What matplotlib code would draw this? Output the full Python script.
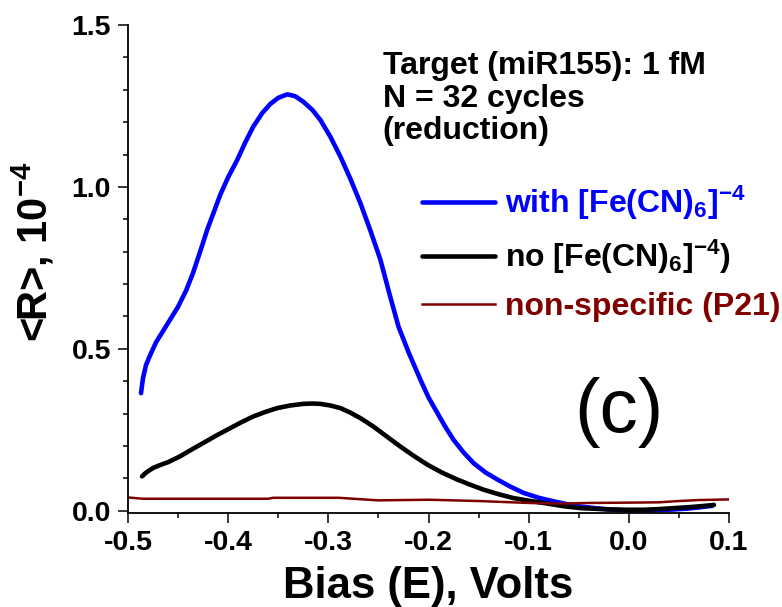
import matplotlib
matplotlib.use("Agg")
import matplotlib.pyplot as plt
from matplotlib.ticker import MultipleLocator

plt.rcParams["font.family"] = ["Liberation Sans", "DejaVu Sans"]
plt.rcParams["font.weight"] = "bold"
plt.rcParams["mathtext.fontset"] = "custom"
plt.rcParams["mathtext.rm"] = "Liberation Sans:bold"
plt.rcParams["mathtext.it"] = "Liberation Sans:bold"
plt.rcParams["mathtext.bf"] = "Liberation Sans:bold"

# with [Fe(CN)6]-4
x_blue = [-0.487, -0.485, -0.482, -0.478, -0.472, -0.465, -0.458, -0.450, -0.442,
          -0.435, -0.428, -0.421, -0.414, -0.408, -0.400, -0.391, -0.383, -0.375,
          -0.366, -0.358, -0.350, -0.341, -0.333, -0.325, -0.316, -0.308, -0.298,
          -0.288, -0.278, -0.268, -0.258, -0.248, -0.239, -0.230, -0.220, -0.208,
          -0.200, -0.191, -0.183, -0.175, -0.165, -0.155, -0.143, -0.131, -0.118,
          -0.105, -0.090, -0.075, -0.060, -0.048, -0.034, -0.020, -0.010, 0.000,
          0.015, 0.030, 0.045, 0.060, 0.072, 0.083]
y_blue = [0.363, 0.410, 0.450, 0.480, 0.520, 0.555, 0.590, 0.630, 0.680,
          0.735, 0.800, 0.867, 0.925, 0.975, 1.030, 1.083, 1.137, 1.186,
          1.228, 1.256, 1.275, 1.286, 1.280, 1.263, 1.238, 1.207, 1.155,
          1.094, 1.025, 0.950, 0.865, 0.775, 0.670, 0.569, 0.490, 0.404,
          0.350, 0.301, 0.258, 0.219, 0.180, 0.147, 0.118, 0.096, 0.074,
          0.055, 0.040, 0.029, 0.019, 0.013, 0.008, 0.004, 0.002, 0.001,
          0.001, 0.002, 0.004, 0.007, 0.011, 0.015]

# no [Fe(CN)6]-4
x_black = [-0.486, -0.483, -0.480, -0.475, -0.468, -0.460, -0.448, -0.437, -0.425,
           -0.412, -0.398, -0.387, -0.375, -0.363, -0.351, -0.338, -0.325, -0.316,
           -0.308, -0.298, -0.288, -0.278, -0.268, -0.255, -0.242, -0.228, -0.215,
           -0.201, -0.186, -0.171, -0.158, -0.145, -0.130, -0.115, -0.098, -0.081,
           -0.065, -0.048, -0.034, -0.020, 0.000, 0.015, 0.030, 0.045, 0.060,
           0.072, 0.085]
y_black = [0.106, 0.115, 0.122, 0.132, 0.141, 0.150, 0.168, 0.188, 0.209,
           0.232, 0.255, 0.273, 0.291, 0.305, 0.317, 0.325, 0.330, 0.331,
           0.330, 0.325, 0.317, 0.303, 0.286, 0.260, 0.230, 0.198, 0.170,
           0.142, 0.117, 0.096, 0.080, 0.065, 0.051, 0.039, 0.030, 0.022,
           0.014, 0.008, 0.006, 0.004, 0.003, 0.003, 0.005, 0.008, 0.011,
           0.014, 0.018]

# non-specific (P21)
x_red = [-0.500, -0.485, -0.360, -0.355, -0.290, -0.270, -0.250, -0.200, -0.150,
         -0.100, -0.070, -0.040, 0.000, 0.030, 0.050, 0.070, 0.100]
y_red = [0.041, 0.037, 0.037, 0.040, 0.040, 0.036, 0.032, 0.034, 0.030,
         0.024, 0.022, 0.024, 0.025, 0.026, 0.030, 0.033, 0.035]

labels = [r"with [Fe(CN)$_6$]$^{-4}$", r"no [Fe(CN)$_6$]$^{-4}$)", "non-specific (P21)"]
info_text = "Target (miR155): 1 fM\nN = 32 cycles\n(reduction)"

fig = plt.figure(figsize=(7.82, 6.07), dpi=100)
ax = fig.add_axes([128 / 782, 1 - 513 / 607, 601 / 782, 488 / 607])

ax.plot(x_blue, y_blue, color="#0000ff", lw=3.3, solid_capstyle="round",
        solid_joinstyle="round", label=labels[0])
ax.plot(x_black, y_black, color="black", lw=3.3, solid_capstyle="round",
        solid_joinstyle="round", label=labels[1])
ax.plot(x_red, y_red, color="#800000", lw=1.8, label=labels[2])

ax.set_xlim(-0.5, 0.1)
ax.set_ylim(-0.007, 1.5)
ax.xaxis.set_major_locator(MultipleLocator(0.1))
ax.xaxis.set_minor_locator(MultipleLocator(0.05))
ax.yaxis.set_major_locator(MultipleLocator(0.5))
ax.yaxis.set_minor_locator(MultipleLocator(0.1))
ax.xaxis.set_major_formatter(plt.FuncFormatter(lambda v, p: f"{v:.1f}"))
ax.yaxis.set_major_formatter(plt.FuncFormatter(lambda v, p: f"{v:.1f}"))

for side in ("top", "right"):
    ax.spines[side].set_visible(False)
for side in ("left", "bottom"):
    ax.spines[side].set_linewidth(1.3)

ax.tick_params(which="major", length=7.2, width=1.1, labelsize=20.5, pad=5)
ax.tick_params(which="minor", length=3.5, width=1.1)

ax.set_xlabel("Bias (E), Volts", fontsize=31.5, fontweight="bold", labelpad=7)
ax.set_ylabel(r"<R>, 10$^{-4}$", fontsize=30, fontweight="bold")
ax.yaxis.set_label_coords(-0.119, 0.535)

ax.text(0.424, 0.946, info_text, transform=ax.transAxes, fontsize=23,
        fontweight="bold", va="top", ha="left", linespacing=1.11)
ax.text(0.816, 0.205, "(c)", transform=ax.transAxes, fontsize=55,
        fontweight="normal", va="center", ha="center")

ax.legend(loc="upper left", bbox_to_anchor=(0.489, 0.675), frameon=False,
          fontsize=23, handlelength=2.3, handletextpad=0.3,
          labelspacing=0.5, borderpad=0, borderaxespad=0,
          labelcolor="linecolor")

fig.savefig("out.png", dpi=100)
